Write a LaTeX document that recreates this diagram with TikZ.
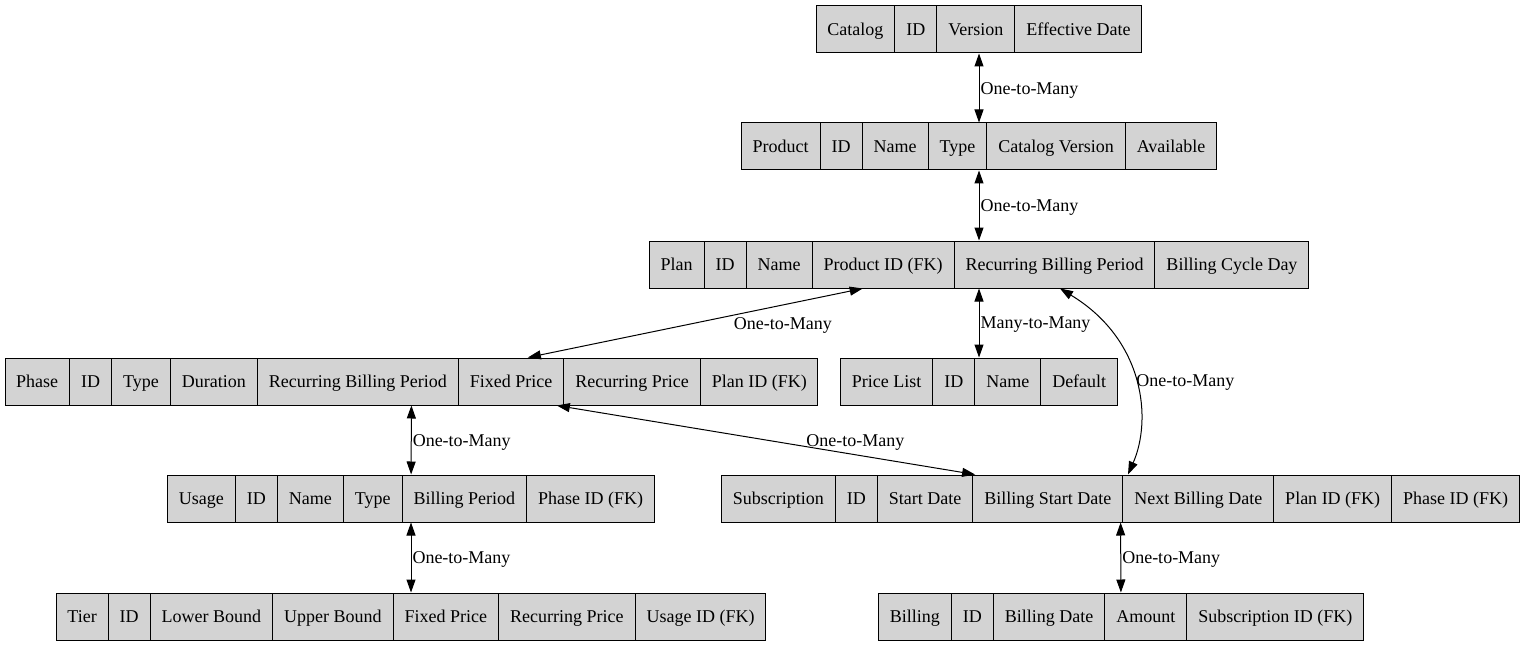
\documentclass[tikz,border=0pt]{standalone}
\usepackage{fontspec}
\setmainfont{Liberation Serif}
\usepackage{tikz}
\usetikzlibrary{shapes.multipart}
\usetikzlibrary{arrows.meta}
\definecolor{recgray}{HTML}{D3D3D3}

\begin{document}
\begin{tikzpicture}[x=1pt, y=-1pt, font=\fontsize{18}{21}\selectfont,
  record/.style={rectangle split, rectangle split horizontal, rectangle split part align=base,
    draw, fill=recgray, line width=1pt, inner xsep=11pt, inner ysep=13.5pt,
    execute at begin node={\rule[-4pt]{0pt}{20pt}}},
  rel/.style={<->, >={Triangle[length=13pt, width=9pt]}, line width=1pt},
  lbl/.style={right, inner sep=1pt, yshift=-2pt}]
  \useasboundingbox (0,0) rectangle (1525,647);
  \node [record, rectangle split parts=4] (catalog) at (979,29.5)
    {Catalog\nodepart{two}ID\nodepart{three}Version\nodepart{four}Effective Date};
  \node [record, rectangle split parts=6] (product) at (979,146.5)
    {Product\nodepart{two}ID\nodepart{three}Name\nodepart{four}Type\nodepart{five}Catalog Version\nodepart{six}Available};
  \node [record, rectangle split parts=6] (plan) at (979,264.5)
    {Plan\nodepart{two}ID\nodepart{three}Name\nodepart{four}Product ID (FK)\nodepart{five}Recurring Billing Period\nodepart{six}Billing Cycle Day};
  \node [record, rectangle split parts=8] (phase) at (411.5,381.5)
    {Phase\nodepart{two}ID\nodepart{three}Type\nodepart{four}Duration\nodepart{five}Recurring Billing Period\nodepart{six}Fixed Price\nodepart{seven}Recurring Price\nodepart{eight}Plan ID (FK)};
  \node [record, rectangle split parts=4] (pricelist) at (979,381.5)
    {Price List\nodepart{two}ID\nodepart{three}Name\nodepart{four}Default};
  \node [record, rectangle split parts=6] (usage) at (411,498.5)
    {Usage\nodepart{two}ID\nodepart{three}Name\nodepart{four}Type\nodepart{five}Billing Period\nodepart{six}Phase ID (FK)};
  \node [record, rectangle split parts=7] (subscription) at (1120.5,498.5)
    {Subscription\nodepart{two}ID\nodepart{three}Start Date\nodepart{four}Billing Start Date\nodepart{five}Next Billing Date\nodepart{six}Plan ID (FK)\nodepart{seven}Phase ID (FK)};
  \node [record, rectangle split parts=7] (tier) at (411,616.5)
    {Tier\nodepart{two}ID\nodepart{three}Lower Bound\nodepart{four}Upper Bound\nodepart{five}Fixed Price\nodepart{six}Recurring Price\nodepart{seven}Usage ID (FK)};
  \node [record, rectangle split parts=5] (billing) at (1121,616.5)
    {Billing\nodepart{two}ID\nodepart{three}Billing Date\nodepart{four}Amount\nodepart{five}Subscription ID (FK)};

  \draw [rel] (catalog) -- node[lbl] {One-to-Many} (product);
  \draw [rel] (product) -- node[lbl] {One-to-Many} (plan);
  \draw [rel] (plan) -- node[lbl, xshift=37pt] {One-to-Many} (phase);
  \draw [rel] (plan) -- node[lbl] {Many-to-Many} (pricelist);
  \draw [rel] ([xshift=81pt]plan.south) .. controls (1145,340) and (1152,420) .. node[lbl] {One-to-Many} ([xshift=7.5pt]subscription.north);
  \draw [rel] (phase) -- node[lbl] {One-to-Many} (usage);
  \draw [rel] (phase) -- node[lbl, xshift=39pt] {One-to-Many} (subscription);
  \draw [rel] (usage) -- node[lbl] {One-to-Many} (tier);
  \draw [rel] (subscription) -- node[lbl] {One-to-Many} (billing);
\end{tikzpicture}
\end{document}
